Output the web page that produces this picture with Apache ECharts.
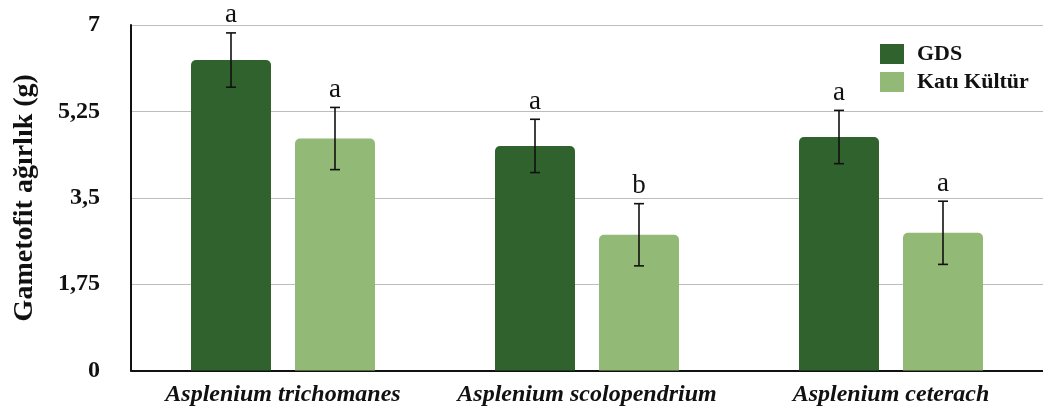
<!DOCTYPE html>
<html><head><meta charset="utf-8">
<script src="https://cdn.jsdelivr.net/npm/echarts@6/dist/echarts.min.js"></script>
<style>html,body{margin:0;padding:0;background:#fff}#c{width:1043px;height:414px}</style>
</head><body><div id="c"></div>
<script>
const categories = ['Asplenium trichomanes', 'Asplenium scolopendrium', 'Asplenium ceterach'];
const seriesNames = ['GDS', 'Katı Kültür'];
const gdsValues = [6.29, 4.55, 4.73];
const katiValues = [4.70, 2.75, 2.79];
const gdsErrors = [0.55, 0.54, 0.54];
const katiErrors = [0.63, 0.63, 0.64];
const gdsLetters = ['a', 'a', 'a'];
const katiLetters = ['a', 'b', 'a'];
const yTicks = [0, 1.75, 3.5, 5.25, 7];

const FONT = '"Liberation Serif", "Times New Roman", serif';
const colors = ['#2f622d', '#93b976'];

function errSeries(vals, errs, letters, side) {
  return {
    type: 'custom',
    z: 10,
    data: vals.map((v, i) => [i, v, errs[i], letters[i]]),
    renderItem: function (params, api) {
      const i = api.value(0), v = api.value(1), e = api.value(2);
      const band = api.size([1, 0])[0];
      const off = side * band * 52 / 304;
      const top = api.coord([i, v + e]);
      const bot = api.coord([i, v - e]);
      const x = top[0] + off;
      const cap = 5;
      const st = { stroke: '#111', lineWidth: 1.6 };
      return {
        type: 'group',
        children: [
          { type: 'line', shape: { x1: x, y1: top[1], x2: x, y2: bot[1] }, style: st },
          { type: 'line', shape: { x1: x - cap, y1: top[1], x2: x + cap, y2: top[1] }, style: st },
          { type: 'line', shape: { x1: x - cap, y1: bot[1], x2: x + cap, y2: bot[1] }, style: st },
          { type: 'text', style: { text: letters[i], x: x, y: top[1] - 4, textAlign: 'center', textVerticalAlign: 'bottom', font: '27px ' + FONT, fill: '#111' } }
        ]
      };
    }
  };
}

const chart = echarts.init(document.getElementById('c'), null, { renderer: 'canvas' });
chart.setOption({
  animation: false,
  backgroundColor: '#fff',
  grid: { left: 131, right: 0, top: 25, bottom: 43.5 },
  legend: {
    orient: 'vertical',
    left: 875, top: 38,
    itemWidth: 24, itemHeight: 20, itemGap: 6,
    icon: 'rect',
    textStyle: { fontFamily: FONT, fontWeight: 'bold', fontSize: 22, color: '#111', padding: [0, 0, 0, 8] },
    data: seriesNames
  },
  xAxis: {
    type: 'category',
    data: categories,
    axisLine: { lineStyle: { color: '#111', width: 2 } },
    axisTick: { show: false },
    axisLabel: { interval: 0, hideOverlap: false, margin: 12, fontFamily: FONT, fontWeight: 'bold', fontStyle: 'italic', fontSize: 24, color: '#111' }
  },
  yAxis: {
    type: 'value',
    min: 0, max: 7, interval: 1.75,
    name: 'Gametofit ağırlık (g)',
    nameLocation: 'middle',
    nameGap: 92,
    nameTextStyle: { fontFamily: FONT, fontWeight: 'bold', fontSize: 28, color: '#111' },
    axisLine: { show: true, lineStyle: { color: '#111', width: 2 } },
    axisTick: { show: false },
    splitLine: { lineStyle: { color: '#bdbdbd', width: 1.2 } },
    axisLabel: {
      margin: 31, fontFamily: FONT, fontWeight: 'bold', fontSize: 24, color: '#111',
      formatter: v => String(v).replace('.', ',')
    }
  },
  series: [
    { name: seriesNames[0], type: 'bar', data: gdsValues, barWidth: 80, barGap: '30%', itemStyle: { color: colors[0], borderRadius: [5, 5, 0, 0] } },
    { name: seriesNames[1], type: 'bar', data: katiValues, barWidth: 80, barGap: '30%', itemStyle: { color: colors[1], borderRadius: [5, 5, 0, 0] } },
    errSeries(gdsValues, gdsErrors, gdsLetters, -1),
    errSeries(katiValues, katiErrors, katiLetters, 1)
  ]
});
</script></body></html>
